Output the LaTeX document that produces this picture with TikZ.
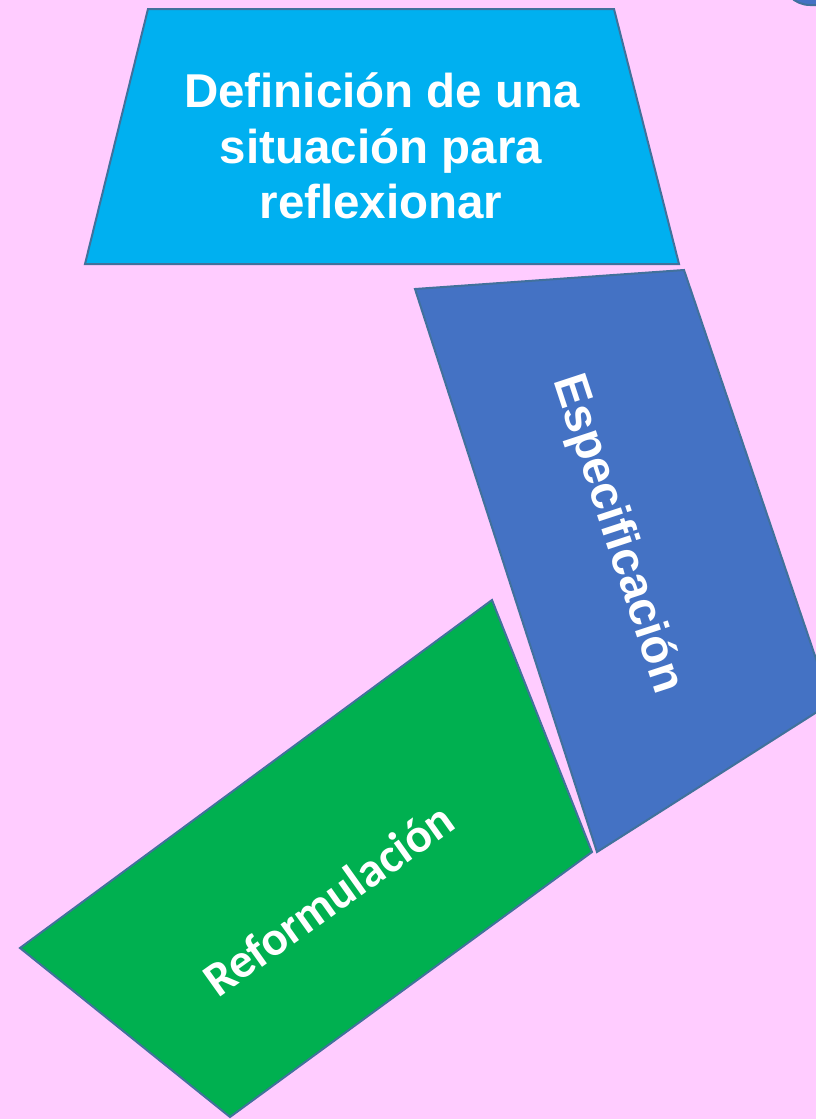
\documentclass[tikz,border=0pt]{standalone}
\usepackage{fontspec}
\setmainfont{Liberation Sans}
\newfontfamily\calfont{Carlito}
\definecolor{bgpink}{RGB}{255,204,255}
\definecolor{cyanbox}{RGB}{0,176,240}
\definecolor{bluebox}{RGB}{68,114,196}
\definecolor{greenbox}{RGB}{0,176,80}
\definecolor{edgeblue}{RGB}{65,113,156}
\tikzset{
  panel/.style={draw=edgeblue, line width=2pt, line join=miter},
  arialtxt/.style={text=white, font=\fontsize{47.5}{55}\selectfont\bfseries, inner sep=0pt, anchor=base},
  caltxt/.style={text=white, font=\calfont\fontsize{48.5}{55}\selectfont\bfseries, inner sep=0pt, anchor=base}
}
\begin{document}
\begin{tikzpicture}[x=1pt,y=-1pt]
\useasboundingbox (0,0) rectangle (816,1119);
\clip (0,0) rectangle (816,1119);
\fill[bgpink] (0,0) rectangle (816,1119);
% top-right partial shape
\draw[panel, fill=bluebox, rounded corners=28pt] (782,-90) rectangle (900,5);
% top trapezoid
\draw[panel, fill=cyanbox] (148,9) -- (614,9) -- (679,264) -- (85,264) -- cycle;
\node[arialtxt] (t1) at (382,107) {Definición de una};
\node[arialtxt] (t2) at (381,163) {situación para};
\node[arialtxt] (t3) at (381,218) {reflexionar};
% blue quad
\draw[panel, fill=bluebox] (415,289) -- (684,270) -- (831,703) -- (597,852) -- cycle;
\node[arialtxt, rotate=-71.8] (esp) at (605,538) {Especificación};
% green quad
\draw[panel, fill=greenbox] (20,948) -- (492,600) -- (592,852) -- (230,1117) -- cycle;
\node[caltxt, rotate=35.5] (ref) at (338,913) {Reformulación};
\end{tikzpicture}
\end{document}
